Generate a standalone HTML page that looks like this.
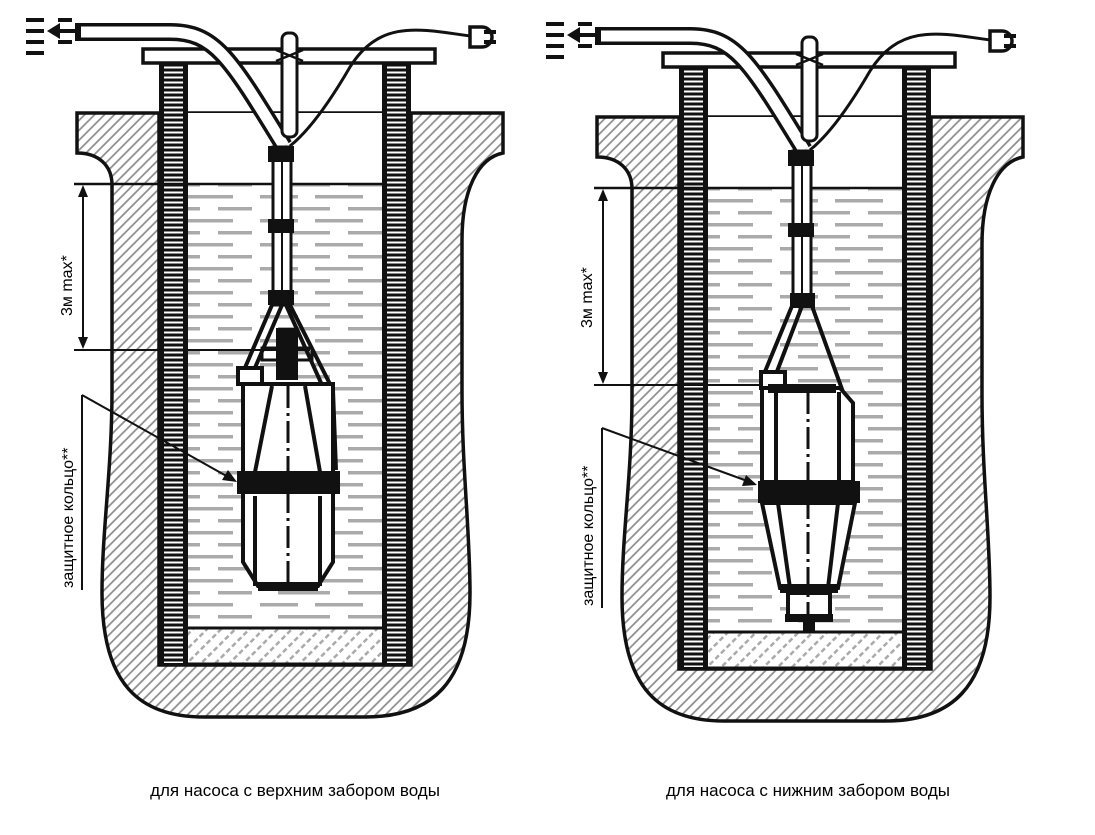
<!DOCTYPE html>
<html><head><meta charset="utf-8"><style>
html,body{margin:0;padding:0;background:#fff;}
svg{display:block;}
text{font-family:"Liberation Sans",sans-serif;}
</style></head><body>
<svg width="1095" height="835" viewBox="0 0 1095 835" xmlns="http://www.w3.org/2000/svg">
<defs>
<pattern id="h" width="7" height="7" patternUnits="userSpaceOnUse" patternTransform="rotate(45)"><line x1="1" y1="0" x2="1" y2="7" stroke="#8a8a8a" stroke-width="1.7"/></pattern>
<pattern id="w" width="130" height="24" patternUnits="userSpaceOnUse"><rect x="0" y="3" width="38" height="3.5" fill="#aaa"/><rect x="55" y="3" width="48" height="3.5" fill="#aaa"/><rect x="18" y="15" width="52" height="3.5" fill="#aaa"/><rect x="88" y="15" width="34" height="3.5" fill="#aaa"/></pattern>
<pattern id="lad" width="30" height="5" patternUnits="userSpaceOnUse"><rect width="30" height="5" fill="#111"/><rect y="1.5" width="30" height="2" fill="#fff"/></pattern>
<pattern id="g" width="10" height="8" patternUnits="userSpaceOnUse" patternTransform="rotate(45)"><rect x="0" y="0" width="2.5" height="5" fill="#aaa"/></pattern>
<g id="well">
  <path fill-rule="evenodd" fill="url(#h)" stroke="#111" stroke-width="3.5" d="M77,113 L503,113 L503,153 C478,158 462,190 462,240 L462,390 C462,470 470,530 470,593 C470,685 430,717 365,717 L204,717 C140,717 102,685 102,593 C102,530 112,470 112,390 L112,185 C112,165 98,153 77,153 Z M159,113 H411 V665 H159 Z"/>
  <rect x="188" y="113" width="194" height="552" fill="#fff"/>
  <rect x="188" y="184" width="194" height="444" fill="url(#w)"/>
  <rect x="188" y="628" width="194" height="36" fill="url(#g)"/>
  <line x1="188" y1="628" x2="382" y2="628" stroke="#111" stroke-width="3"/>
  <line x1="159" y1="664" x2="411" y2="664" stroke="#111" stroke-width="3"/>
  <rect x="159" y="62" width="29" height="603" fill="#111"/>
  <rect x="164" y="65" width="19" height="598" fill="url(#lad)"/>
  <rect x="382" y="62" width="29" height="603" fill="#111"/>
  <rect x="387" y="65" width="19" height="598" fill="url(#lad)"/>
  <line x1="74" y1="184" x2="382" y2="184" stroke="#111" stroke-width="2.5"/>
  <rect x="143" y="49" width="292" height="14" fill="#fff" stroke="#111" stroke-width="3.5"/>
  <path d="M79,32 L170,32 C215,32 230,58 284,146" fill="none" stroke="#111" stroke-width="18"/>
  <path d="M79,32 L170,32 C215,32 230,58 284,146" fill="none" stroke="#fff" stroke-width="11"/>
  <rect x="75" y="23" width="6" height="18" fill="#111"/>
  <path d="M470,36 C420,29 380,19 350,67 C325,110 305,134 290,146" fill="none" stroke="#111" stroke-width="3"/>
  <path d="M470,27 h12 a10,10 0 0 1 0,20 h-12 z" fill="#fff" stroke="#111" stroke-width="3.5"/>
  <rect x="484" y="30" width="12" height="4" fill="#111"/><rect x="484" y="40" width="12" height="4" fill="#111"/>
  <g fill="#111"><rect x="26" y="18" width="18" height="4"/><rect x="26" y="29" width="18" height="4"/><rect x="26" y="40" width="18" height="4"/><rect x="26" y="51" width="18" height="4"/>
  <rect x="58" y="18" width="14" height="4"/><rect x="58" y="40" width="14" height="4"/>
  <rect x="55" y="29" width="20" height="4"/><path d="M47,31 L60,23 L60,39 Z"/></g>
  <rect x="282" y="33" width="15" height="104" rx="6" fill="#fff" stroke="#111" stroke-width="3"/>
  <path d="M276,50 L303,61 M303,50 L276,61" stroke="#111" stroke-width="2.5"/>
</g>
</defs>

<use href="#well"/>
<rect x="273" y="147" width="18" height="158" fill="#fff" stroke="#111" stroke-width="3"/>
<line x1="282" y1="147" x2="282" y2="305" stroke="#111" stroke-width="2"/>
<rect x="268" y="146" width="26" height="16" fill="#111"/>
<rect x="268" y="219" width="26" height="14" fill="#111"/>
<rect x="268" y="290" width="26" height="15" fill="#111"/>
<path d="M272,305 L244,370 M282,305 L254,370 M290,305 L333,390 L336,470 M286,305 L322,385" stroke="#111" stroke-width="4" fill="none"/>
<rect x="238" y="368" width="24" height="16" fill="#fff" stroke="#111" stroke-width="4"/>
<rect x="276" y="328" width="22" height="52" fill="#111"/>
<rect x="262" y="348" width="50" height="12" fill="none" stroke="#111" stroke-width="3"/>
<path d="M243,384 L333,384 L333,562 L318,586 L258,586 L243,562 Z" fill="#fff" stroke="#111" stroke-width="4"/>
<path d="M255,472 L272,386 M320,472 L305,386 M255,496 L255,586 M320,496 L320,586" stroke="#111" stroke-width="4"/>
<line x1="288" y1="386" x2="288" y2="586" stroke="#111" stroke-width="3" stroke-dasharray="22,5,3,5"/>
<rect x="237" y="471" width="103" height="23" fill="#111"/>
<rect x="258" y="582" width="60" height="9" fill="#111"/>
<line x1="74" y1="350" x2="310" y2="350" stroke="#111" stroke-width="2"/>
<line x1="83" y1="189" x2="83" y2="345" stroke="#111" stroke-width="2"/>
<path d="M83,185 L78,197 L88,197 Z M83,349 L78,337 L88,337 Z" fill="#111"/>
<text transform="translate(72,316) rotate(-90)" font-size="16">3м max*</text>
<line x1="82" y1="395" x2="82" y2="590" stroke="#111" stroke-width="2"/>
<line x1="82" y1="395" x2="230" y2="478" stroke="#111" stroke-width="2"/>
<path d="M237,482 L222,480 L228,470 Z" fill="#111"/>
<text transform="translate(73,588) rotate(-90)" font-size="16">защитное кольцо**</text>

<use href="#well" transform="translate(520,4)"/>
<rect x="793" y="151" width="18" height="145" fill="#fff" stroke="#111" stroke-width="3"/>
<line x1="802" y1="151" x2="802" y2="296" stroke="#111" stroke-width="2"/>
<rect x="788" y="150" width="26" height="16" fill="#111"/>
<rect x="788" y="223" width="26" height="14" fill="#111"/>
<rect x="790" y="293" width="25" height="15" fill="#111"/>
<path d="M792,306 L764,374 M802,306 L776,374 M812,306 L843,392" stroke="#111" stroke-width="4" fill="none"/>
<rect x="761" y="372" width="24" height="16" fill="#fff" stroke="#111" stroke-width="4"/>
<path d="M762,388 L840,388 L853,403 L853,482 L762,482 Z" fill="#fff" stroke="#111" stroke-width="4"/>
<rect x="768" y="384" width="68" height="9" fill="#111"/>
<path d="M776,392 L776,482 M839,392 L839,482" stroke="#111" stroke-width="4"/>
<path d="M762,503 L780,588 L838,588 L855,503 Z" fill="#fff" stroke="#111" stroke-width="4"/>
<path d="M778,503 L790,588 M838,503 L828,588" stroke="#111" stroke-width="4"/>
<rect x="758" y="481" width="102" height="22" fill="#111"/>
<rect x="780" y="584" width="58" height="9" fill="#111"/>
<rect x="788" y="593" width="42" height="24" fill="#fff" stroke="#111" stroke-width="4"/>
<rect x="785" y="614" width="48" height="8" fill="#111"/>
<rect x="803" y="620" width="12" height="12" fill="#111"/>
<line x1="808" y1="392" x2="808" y2="620" stroke="#111" stroke-width="3" stroke-dasharray="22,5,3,5"/>
<line x1="594" y1="385" x2="760" y2="385" stroke="#111" stroke-width="2"/>
<line x1="603" y1="193" x2="603" y2="380" stroke="#111" stroke-width="2"/>
<path d="M603,189 L598,201 L608,201 Z M603,384 L598,372 L608,372 Z" fill="#111"/>
<text transform="translate(592,328) rotate(-90)" font-size="16">3м max*</text>
<line x1="602" y1="428" x2="602" y2="608" stroke="#111" stroke-width="2"/>
<line x1="602" y1="428" x2="750" y2="482" stroke="#111" stroke-width="2"/>
<path d="M757,485 L742,486 L746,475 Z" fill="#111"/>
<text transform="translate(593,606) rotate(-90)" font-size="16">защитное кольцо**</text>

<text x="295" y="796" font-size="17" text-anchor="middle">для насоса с верхним забором воды</text>
<text x="808" y="796" font-size="17" text-anchor="middle">для насоса с нижним забором воды</text>
</svg>
</body></html>
